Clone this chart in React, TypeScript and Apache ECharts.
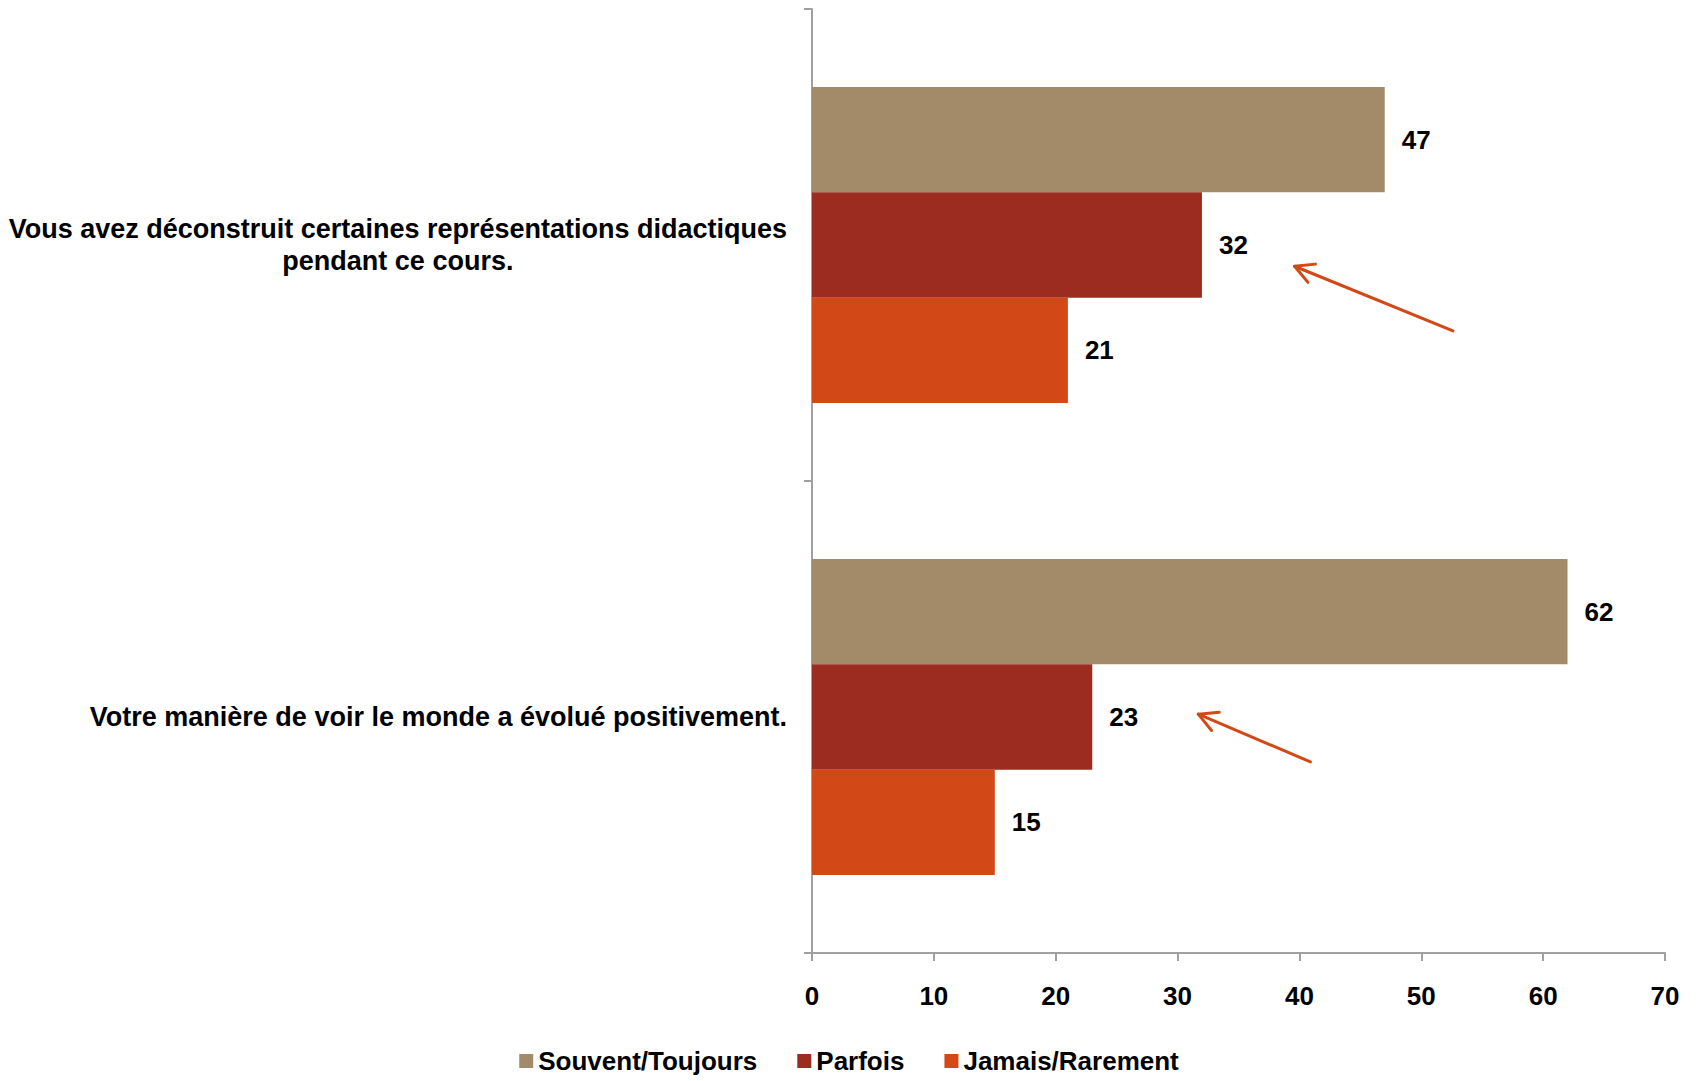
import React, { useEffect, useRef } from "react";
import * as echarts from "echarts";

// Categories listed bottom-to-top (ECharts category y axis order)
const categories = [
  "Votre manière de voir le monde a évolué positivement.",
  "Vous avez déconstruit certaines représentations didactiques\npendant ce cours.",
];
const seriesNames = ["Souvent/Toujours", "Parfois", "Jamais/Rarement"];
const souventToujours = [62, 47];
const parfois = [23, 32];
const jamaisRarement = [15, 21];
const xMin = 0;
const xMax = 70;
const xInterval = 10;
const seriesColors = ["#A38B69", "#9B2C1F", "#D34817"];
// Annotation arrows in data units: [x value, category position]
const arrowTails = [
  [40.9, -0.095],
  [52.6, 0.818],
];
const arrowHeads = [
  [31.7, 0.006],
  [39.6, 0.955],
];

const FONT = "Liberation Sans, Arial, sans-serif";

export default function App() {
  const ref = useRef<HTMLDivElement>(null);
  useEffect(() => {
    if (!ref.current) return;
    const chart = echarts.init(ref.current, null, { renderer: "svg" });
    const values = [souventToujours, parfois, jamaisRarement];
    const option: any = {
      animation: false,
      backgroundColor: "#ffffff",
      textStyle: { fontFamily: FONT },
      grid: { left: 812, right: 33, top: 9, bottom: 128, containLabel: false },
      legend: {
        bottom: 2,
        left: "center",
        data: seriesNames,
        itemWidth: 14,
        itemHeight: 14,
        itemGap: 40,
        icon: "rect",
        textStyle: { fontSize: 26, fontWeight: "bold", color: "#000", fontFamily: FONT },
      },
      xAxis: {
        type: "value",
        min: xMin,
        max: xMax,
        interval: xInterval,
        splitLine: { show: false },
        axisLine: { show: true, lineStyle: { color: "#A0A0A0", width: 2 } },
        axisTick: { show: true, length: 8, lineStyle: { color: "#A0A0A0", width: 2 } },
        axisLabel: { margin: 30, fontSize: 26, fontWeight: "bold", color: "#000", fontFamily: FONT },
      },
      yAxis: {
        type: "category",
        data: categories,
        axisLine: { show: true, lineStyle: { color: "#A0A0A0", width: 2 } },
        axisTick: { show: true, length: 8, alignWithLabel: false, lineStyle: { color: "#A0A0A0", width: 2 } },
        axisLabel: {
          margin: 25,
          fontSize: 27,
          fontWeight: "bold",
          color: "#000",
          fontFamily: FONT,
          lineHeight: 32,
          formatter: (v: string) =>
            v
              .split("\n")
              .map((l) => `{c|${l}}`)
              .join("\n"),
          rich: {
            c: { align: "center", fontSize: 27, fontWeight: "bold", color: "#000", fontFamily: FONT, lineHeight: 32 },
          },
        },
      },
      series: seriesNames.map((name, i) => ({
        name,
        type: "bar",
        data: values[i],
        barGap: "0%",
        barCategoryGap: "33%",
        itemStyle: { color: seriesColors[i] },
        label: {
          show: true,
          position: "right",
          distance: 17,
          fontSize: 26,
          fontWeight: "bold",
          color: "#000",
          fontFamily: FONT,
        },
      })),
    };
    chart.setOption(option);

    const toPx = (pt: number[]) => {
      const a = chart.convertToPixel({ gridIndex: 0 }, [pt[0], 0]) as number[];
      const b = chart.convertToPixel({ gridIndex: 0 }, [pt[0], 1]) as number[];
      return [a[0], a[1] + (b[1] - a[1]) * pt[1]];
    };

    const graphics: any[] = [];
    const armLen = 21;
    const armAngle = (28 * Math.PI) / 180;
    arrowTails.forEach((tail, i) => {
      const head = arrowHeads[i];
      const p0 = toPx(tail);
      const p1 = toPx(head);
      const ang = Math.atan2(p0[1] - p1[1], p0[0] - p1[0]);
      const a1 = [p1[0] + armLen * Math.cos(ang - armAngle), p1[1] + armLen * Math.sin(ang - armAngle)];
      const a2 = [p1[0] + armLen * Math.cos(ang + armAngle), p1[1] + armLen * Math.sin(ang + armAngle)];
      const style = { stroke: "#D34817", lineWidth: 3, fill: null, lineCap: "round", lineJoin: "round" };
      graphics.push({
        type: "line",
        shape: { x1: p0[0], y1: p0[1], x2: p1[0], y2: p1[1] },
        style,
        z: 10,
      });
      graphics.push({
        type: "polyline",
        shape: { points: [a1, p1, a2] },
        style,
        z: 10,
      });
    });
    chart.setOption({ graphic: graphics });

    return () => chart.dispose();
  }, []);
  return <div ref={ref} style={{ width: 1698, height: 1081, position: "absolute", left: 0, top: 0 }} />;
}
